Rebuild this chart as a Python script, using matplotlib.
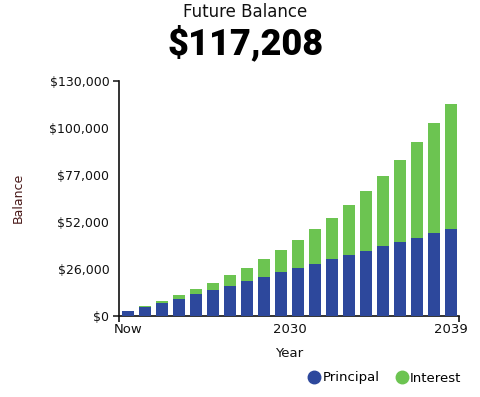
import matplotlib
matplotlib.use("Agg")
import matplotlib.pyplot as plt
from matplotlib.lines import Line2D

# ---- data ----
years = ["Now"] + [str(y) for y in range(2021, 2040)]
principal = [2400, 4800, 7100, 9500, 11900, 14300, 16700, 19100, 21500, 23900,
             26300, 28700, 31100, 33600, 36000, 38400, 40800, 43200, 45600, 48000]
total = [2600, 5370, 8130, 11290, 14600, 18260, 22350, 26550, 31200, 36350,
         41880, 47800, 54210, 61240, 68980, 77280, 86130, 95930, 106440, 117208]
interest = [t - p for t, p in zip(total, principal)]
ytick_vals = [0, 26000, 52000, 78000, 104000, 130000]
ytick_labels = ["$0", "$26,000", "$52,000", "$77,000", "$100,000", "$130,000"]
xtick_labels = ["Now", "2030", "2039"]
title = "Future Balance"
headline = "$117,208"

BLUE = "#2d489c"
GREEN = "#6cc451"

plt.rcParams['font.family'] = ['DejaVu Sans']
W, H = 481, 397
fig = plt.figure(figsize=(W / 100, H / 100), dpi=100)

L, R, T, B = 119, 459, 80.7, 315.7
ax = fig.add_axes([L / W, 1 - B / H, (R - L) / W, (B - T) / H])

x = list(range(len(years)))
ax.bar(x, principal, width=0.69, color=BLUE, zorder=3)
ax.bar(x, interest, bottom=principal, width=0.69, color=GREEN, zorder=3)

ax.set_xlim(-0.55, 19.45)
ax.set_ylim(0, 130000)

for s in ["top", "right"]:
    ax.spines[s].set_visible(False)
for s in ["left", "bottom"]:
    ax.spines[s].set_color("#111111")
    ax.spines[s].set_linewidth(1.2)

ax.set_yticks(ytick_vals)
ax.set_yticklabels(ytick_labels, fontsize=9, color="#111111")
ax.tick_params(axis="y", length=4, width=1.1, pad=3, colors="#111111")
for i, t in enumerate(ax.yaxis.get_major_ticks()):
    if i not in (0, len(ytick_vals) - 1):
        t.tick1line.set_visible(False)

ax.set_xticks([-0.55, 19.45])
ax.set_xticklabels(["", ""])
ax.tick_params(axis="x", length=4, width=1.1)
ax.set_xticks([0, 9.5, 19], minor=True)
ax.set_xticklabels(xtick_labels, minor=True, fontsize=9.5, color="#111111")
ax.tick_params(axis="x", which="minor", length=0, pad=5)

ax.set_xlabel("Year", fontsize=9.5, color="#111111", labelpad=8)
ax.set_ylabel("Balance", fontsize=9, color="#4a1a1a", labelpad=18)

fig.text(245.5 / W, 1 - 12 / H, title, ha="center", va="center", fontsize=12, color="#111111")
fig.text(246 / W, 1 - 44 / H, headline, ha="center", va="center", fontsize=26,
         fontweight="black", family=["Roboto", "DejaVu Sans"], color="#000000")

handles = [Line2D([], [], marker="o", linestyle="", markersize=9, color=BLUE),
           Line2D([], [], marker="o", linestyle="", markersize=9, color=GREEN)]
fig.legend(handles, ["Principal", "Interest"], loc="center right",
           bbox_to_anchor=(473 / W, 1 - 378 / H), ncol=2, frameon=False,
           fontsize=9.5, handletextpad=0.1, columnspacing=1.2, handlelength=1.0)

fig.savefig("out.png", dpi=100)
